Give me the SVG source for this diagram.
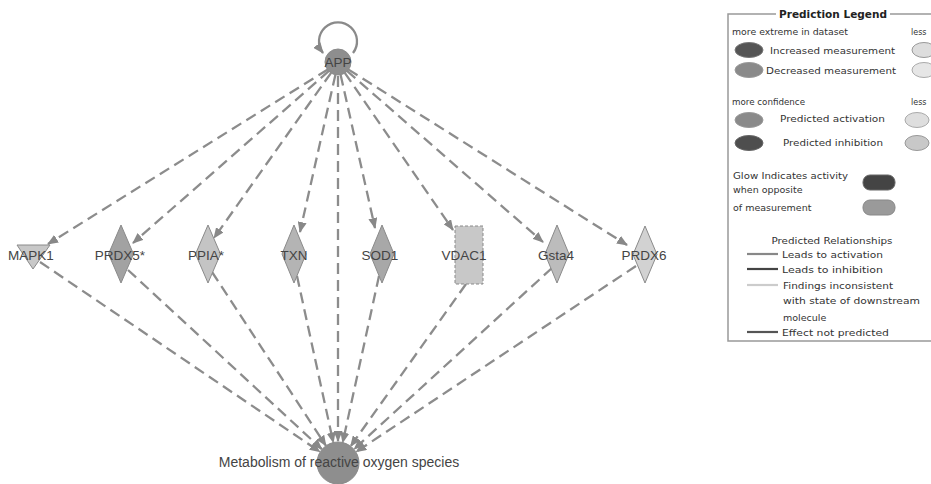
<svg xmlns="http://www.w3.org/2000/svg" width="931" height="484" viewBox="0 0 931 484">
<style>
.e{fill:none;stroke:#8c8c8c;stroke-width:2.3;stroke-dasharray:11 6}
.lab{font-family:"Liberation Sans",Arial,sans-serif;font-size:13.5px;fill:#444;text-anchor:middle}
.lg{font-family:"DejaVu Sans",Verdana,sans-serif;font-size:9.5px;fill:#333}
.sm{font-family:"DejaVu Sans",Verdana,sans-serif;font-size:8px;fill:#333}
.n{stroke:#8a8a8a;stroke-width:1}
</style>
<defs>
<marker id="ah" markerUnits="userSpaceOnUse" markerWidth="11" markerHeight="9" refX="10" refY="4.5" orient="auto">
<path d="M0,0 L11,4.5 L0,9 z" fill="#888"/>
</marker>
</defs>
<rect width="931" height="484" fill="#fff"/>
<g id="connectors">
<path class="e" d="M327.8,69.4 L48,244" marker-end="url(#ah)"/>
<path class="e" d="M329,70.9 L133,243" marker-end="url(#ah)"/>
<path class="e" d="M331.1,72.8 L214,238" marker-end="url(#ah)"/>
<path class="e" d="M335.4,74.7 L300,232" marker-end="url(#ah)"/>
<path class="e" d="M340.6,74.7 L375,228" marker-end="url(#ah)"/>
<path class="e" d="M344.8,72.9 L453,230" marker-end="url(#ah)"/>
<path class="e" d="M347,70.9 L543,242" marker-end="url(#ah)"/>
<path class="e" d="M348.2,69.4 L627,245" marker-end="url(#ah)"/>
<path class="e" d="M338,76 L338,441" marker-end="url(#ah)"/>
<path class="e" d="M40,262 L319.8,451.7" marker-end="url(#ah)"/>
<path class="e" d="M128,270 L321.8,449.1" marker-end="url(#ah)"/>
<path class="e" d="M212,272 L325.9,445.6" marker-end="url(#ah)"/>
<path class="e" d="M297,276 L333.3,442.5" marker-end="url(#ah)"/>
<path class="e" d="M379,276 L342.7,442.5" marker-end="url(#ah)"/>
<path class="e" d="M466,284 L350.7,446.1" marker-end="url(#ah)"/>
<path class="e" d="M552,268 L354.2,449.1" marker-end="url(#ah)"/>
<path class="e" d="M636,266 L356.3,451.8" marker-end="url(#ah)"/>
<path d="M353,53 A19 19 0 1 0 323,53" fill="none" stroke="#8a8a8a" stroke-width="2.3" marker-end="url(#ah)"/>
</g>
<g id="APP">
<circle cx="338" cy="62" r="13" fill="#8e8e8e" class="n"/>
<text class="lab" x="338" y="67">APP</text>
</g>
<g id="MAPK1">
<path d="M17,245 L50,245 L33,269 z" fill="#c8c8c8" class="n"/>
<text class="lab" x="31" y="260">MAPK1</text>
</g>
<g id="PRDX5">
<path d="M121,225 L133.5,254 L121,283 L108.5,254 z" fill="#a2a2a2" class="n"/>
<text class="lab" x="120" y="260">PRDX5*</text>
</g>
<g id="PPIA">
<path d="M208,225 L220.5,254 L208,283 L195.5,254 z" fill="#c4c4c4" class="n"/>
<text class="lab" x="206" y="260">PPIA*</text>
</g>
<g id="TXN">
<path d="M294,225 L306,254 L294,283 L282,254 z" fill="#b4b4b4" class="n"/>
<text class="lab" x="294" y="260">TXN</text>
</g>
<g id="SOD1">
<path d="M382,225 L394,254 L382,283 L370,254 z" fill="#a8a8a8" class="n"/>
<text class="lab" x="380" y="260">SOD1</text>
</g>
<g id="VDAC1">
<rect x="455" y="226" width="28" height="58" fill="#c8c8c8" stroke="#8a8a8a" stroke-dasharray="3 2"/>
<text class="lab" x="464" y="260">VDAC1</text>
</g>
<g id="Gsta4">
<path d="M557,225 L569,254 L557,283 L545,254 z" fill="#bcbcbc" class="n"/>
<text class="lab" x="556" y="260">Gsta4</text>
</g>
<g id="PRDX6">
<path d="M645,226 L657,254.5 L645,283 L633,254.5 z" fill="#d2d2d2" class="n"/>
<text class="lab" x="644" y="260">PRDX6</text>
</g>
<g id="ROS">
<circle cx="338" cy="463" r="21" fill="#8e8e8e" class="n"/>
<text class="lab" x="339" y="467" style="font-size:14px">Metabolism of reactive oxygen species</text>
</g>
<g id="legend">
<rect x="728" y="14" width="210" height="327" fill="none" stroke="#999" stroke-width="1.5"/>
<rect x="776" y="6" width="114" height="16" fill="#fff"/>
<text x="833" y="18" text-anchor="middle" style="font-family:'DejaVu Sans',Verdana,sans-serif;font-size:10.5px;font-weight:bold;fill:#222" textLength="108" lengthAdjust="spacingAndGlyphs">Prediction Legend</text>
<text class="sm" x="732" y="35" textLength="116" lengthAdjust="spacingAndGlyphs">more extreme in dataset</text>
<text class="sm" x="911" y="35">less</text>
<ellipse cx="749" cy="50" rx="14" ry="7.5" fill="#555" stroke="#777"/>
<text class="lg" x="770" y="54" textLength="125" lengthAdjust="spacingAndGlyphs">Increased measurement</text>
<ellipse cx="924" cy="50" rx="12" ry="7.5" fill="#ddd" stroke="#999"/>
<ellipse cx="749" cy="70" rx="14" ry="7.5" fill="#8a8a8a" stroke="#999"/>
<text class="lg" x="766" y="74" textLength="130" lengthAdjust="spacingAndGlyphs">Decreased measurement</text>
<ellipse cx="924" cy="70" rx="12" ry="7.5" fill="#e6e6e6" stroke="#aaa"/>
<text class="sm" x="732" y="105" textLength="73" lengthAdjust="spacingAndGlyphs">more confidence</text>
<text class="sm" x="911" y="105">less</text>
<ellipse cx="749" cy="120" rx="14" ry="7.5" fill="#8a8a8a" stroke="#999"/>
<text class="lg" x="780" y="122" textLength="105" lengthAdjust="spacingAndGlyphs">Predicted activation</text>
<ellipse cx="917" cy="120" rx="12" ry="7.5" fill="#dedede" stroke="#aaa"/>
<ellipse cx="749" cy="143" rx="14" ry="7.5" fill="#4e4e4e" stroke="#666"/>
<text class="lg" x="783" y="146" textLength="100" lengthAdjust="spacingAndGlyphs">Predicted inhibition</text>
<ellipse cx="917" cy="143" rx="12" ry="7.5" fill="#c8c8c8" stroke="#999"/>
<text class="lg" x="733" y="179" textLength="115" lengthAdjust="spacingAndGlyphs">Glow Indicates activity</text>
<text class="lg" x="733" y="193">when opposite</text>
<text class="lg" x="733" y="211">of measurement</text>
<rect x="863" y="175" width="32" height="15" rx="7" fill="#444" stroke="#666"/>
<rect x="863" y="200" width="32" height="15" rx="7" fill="#9a9a9a" stroke="#888"/>
<text class="lg" x="832" y="244" text-anchor="middle" textLength="121" lengthAdjust="spacingAndGlyphs">Predicted Relationships</text>
<line x1="747" y1="254" x2="778" y2="254" stroke="#888" stroke-width="2.2"/>
<text class="lg" x="782" y="258" textLength="101" lengthAdjust="spacingAndGlyphs">Leads to activation</text>
<line x1="747" y1="269" x2="778" y2="269" stroke="#444" stroke-width="2.2"/>
<text class="lg" x="782" y="273" textLength="101" lengthAdjust="spacingAndGlyphs">Leads to inhibition</text>
<line x1="747" y1="285" x2="778" y2="285" stroke="#ccc" stroke-width="2.2"/>
<text class="lg" x="783" y="289" textLength="110" lengthAdjust="spacingAndGlyphs">Findings inconsistent</text>
<text class="lg" x="783" y="304" textLength="137" lengthAdjust="spacingAndGlyphs">with state of downstream</text>
<text class="lg" x="783" y="321">molecule</text>
<line x1="747" y1="332" x2="778" y2="332" stroke="#555" stroke-width="2.2"/>
<text class="lg" x="782" y="336" textLength="107" lengthAdjust="spacingAndGlyphs">Effect not predicted</text>
</g>
</svg>
